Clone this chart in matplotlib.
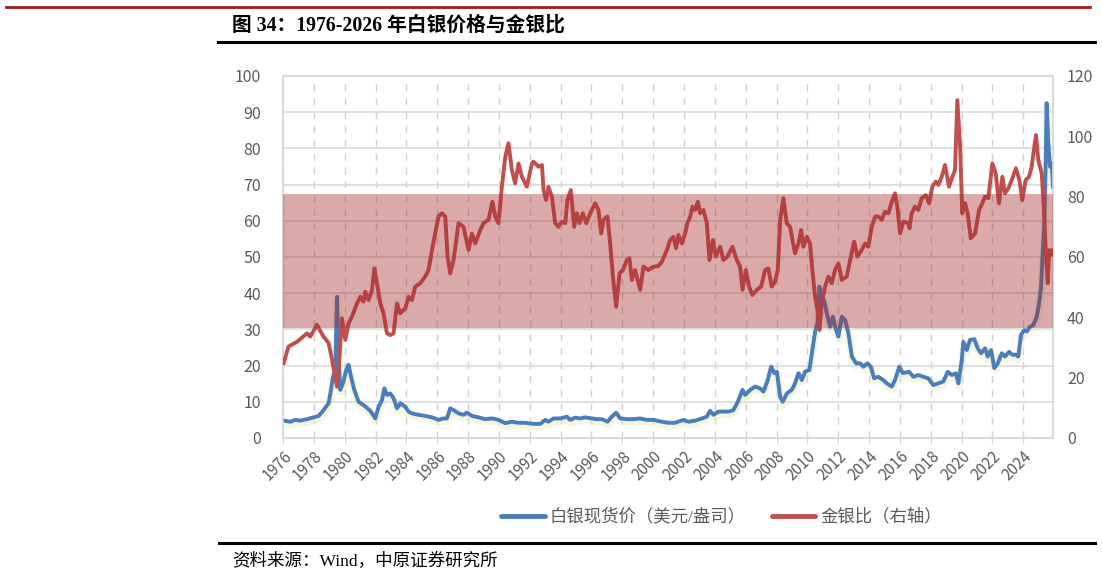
import matplotlib
matplotlib.use("Agg")
import matplotlib.pyplot as plt
import matplotlib.patheffects as pe
from matplotlib.lines import Line2D
from matplotlib.transforms import ScaledTranslation
import numpy as np

plt.rcParams['font.family'] = ['Noto Sans CJK SC', 'DejaVu Sans']
serif_cjk = ['Liberation Serif', 'Noto Sans CJK SC']

# silver spot price (USD/oz), left axis
silver_t = [1976.04, 1976.47, 1976.80, 1977.12, 1977.56, 1977.98, 1978.31, 1978.63, 1978.96, 1979.11,
            1979.24, 1979.39, 1979.50, 1979.60, 1979.71, 1979.89, 1980.10, 1980.25, 1980.41, 1980.62,
            1980.90, 1981.22, 1981.48, 1981.70, 1981.98, 1982.20, 1982.42, 1982.57, 1982.74, 1982.95,
            1983.17, 1983.39, 1983.60, 1983.93, 1984.14, 1984.36, 1984.79, 1985.22, 1985.66, 1986.08,
            1986.41, 1986.63, 1986.84, 1987.06, 1987.38, 1987.70, 1987.92, 1988.25, 1988.68, 1989.11,
            1989.55, 1989.97, 1990.41, 1990.84, 1991.27, 1991.70, 1992.24, 1992.68, 1993.00, 1993.21,
            1993.54, 1993.97, 1994.41, 1994.62, 1994.94, 1995.27, 1995.59, 1996.03, 1996.35, 1996.67,
            1997.04, 1997.32, 1997.60, 1997.86, 1998.29, 1998.72, 1999.16, 1999.59, 2000.02, 2000.56,
            2000.99, 2001.42, 2001.96, 2002.29, 2002.72, 2003.16, 2003.48, 2003.69, 2003.91, 2004.23,
            2004.55, 2004.88, 2005.20, 2005.49, 2005.79, 2005.96, 2006.29, 2006.61, 2006.93, 2007.15,
            2007.43, 2007.65, 2007.86, 2008.02, 2008.23, 2008.40, 2008.66, 2008.99, 2009.20, 2009.42,
            2009.64, 2009.85, 2010.13, 2010.32, 2010.50, 2010.65, 2010.78, 2010.93, 2011.08, 2011.26,
            2011.47, 2011.65, 2011.86, 2012.01, 2012.23, 2012.44, 2012.66, 2012.88, 2013.16, 2013.42,
            2013.63, 2013.89, 2014.11, 2014.32, 2014.60, 2014.93, 2015.14, 2015.47, 2015.68, 2015.96,
            2016.18, 2016.59, 2016.87, 2017.19, 2017.52, 2017.84, 2018.16, 2018.49, 2018.81, 2019.10,
            2019.36, 2019.62, 2019.79, 2020.01, 2020.11, 2020.33, 2020.54, 2020.82, 2021.04, 2021.26,
            2021.52, 2021.69, 2021.90, 2022.12, 2022.34, 2022.60, 2022.81, 2023.07, 2023.29, 2023.50,
            2023.67, 2023.85, 2024.06, 2024.22, 2024.43, 2024.65, 2024.87, 2025.02, 2025.15, 2025.23,
            2025.36, 2025.45, 2025.51, 2025.62, 2025.73, 2025.84, 2025.92]
silver_v = [4.8, 4.5, 5.0, 4.8, 5.2, 5.7, 6.1, 7.7, 9.6, 13.3,
            16.9, 18.8, 39.0, 23.4, 13.3, 15.1, 18.8, 20.2, 16.9, 13.3,
            10.0, 9.1, 8.2, 7.3, 5.4, 8.6, 10.5, 13.7, 11.9, 12.3,
            11.0, 8.2, 9.6, 8.6, 7.3, 6.8, 6.4, 6.1, 5.7, 5.0,
            5.4, 5.4, 8.2, 7.7, 6.8, 6.4, 7.0, 6.1, 5.7, 5.2,
            5.4, 5.0, 4.1, 4.5, 4.2, 4.2, 3.9, 3.9, 5.0, 4.5,
            5.4, 5.4, 5.9, 5.0, 5.6, 5.4, 5.7, 5.4, 5.2, 5.2,
            4.5, 5.9, 7.0, 5.4, 5.2, 5.2, 5.4, 5.0, 5.0, 4.5,
            4.2, 4.2, 5.0, 4.5, 4.8, 5.4, 5.9, 7.5, 6.4, 7.3,
            7.3, 7.3, 7.7, 10.0, 13.3, 11.9, 13.3, 14.2, 13.7, 12.8,
            16.0, 19.7, 17.9, 18.3, 11.4, 10.0, 12.3, 13.3, 15.1, 17.9,
            16.0, 18.3, 18.8, 24.3, 29.4, 31.7, 41.8, 37.2, 38.1, 34.4,
            30.7, 33.5, 29.8, 28.0, 33.5, 32.6, 28.9, 22.5, 20.6, 20.6,
            19.7, 20.6, 19.7, 16.5, 16.9, 16.0, 15.1, 14.2, 16.0, 19.7,
            17.9, 18.3, 16.9, 17.4, 16.9, 16.5, 14.6, 15.1, 15.6, 18.3,
            17.4, 17.9, 15.1, 21.5, 26.6, 24.3, 27.1, 27.3, 24.8, 23.4,
            24.8, 22.5, 24.3, 19.3, 20.6, 23.4, 22.5, 23.8, 23.0, 23.0,
            22.5, 28.5, 29.8, 29.4, 30.7, 31.2, 33.5, 37.2, 41.8, 49.2,
            59.3, 75.9, 92.5, 81.4, 74.9, 75.9, 69.4]

# gold / silver ratio, right axis
ratio_t = [1976.04, 1976.36, 1976.91, 1977.56, 1977.77, 1978.20, 1978.63, 1978.96, 1979.18, 1979.50,
           1979.60, 1979.82, 1980.04, 1980.25, 1980.47, 1980.80, 1981.01, 1981.22, 1981.33, 1981.55,
           1981.77, 1981.92, 1982.09, 1982.31, 1982.52, 1982.74, 1982.95, 1983.17, 1983.39, 1983.60,
           1983.93, 1984.14, 1984.36, 1984.57, 1984.90, 1985.22, 1985.44, 1985.66, 1985.87, 1986.08,
           1986.30, 1986.52, 1986.67, 1986.84, 1987.06, 1987.38, 1987.70, 1988.03, 1988.25, 1988.46,
           1988.79, 1989.00, 1989.32, 1989.58, 1989.76, 1989.97, 1990.19, 1990.41, 1990.62, 1990.84,
           1991.05, 1991.27, 1991.49, 1991.81, 1992.14, 1992.24, 1992.57, 1992.79, 1992.89, 1993.06,
           1993.21, 1993.43, 1993.65, 1993.86, 1994.08, 1994.30, 1994.44, 1994.66, 1994.88, 1995.05,
           1995.22, 1995.44, 1995.66, 1995.92, 1996.24, 1996.45, 1996.63, 1996.78, 1997.04, 1997.21,
           1997.39, 1997.60, 1997.82, 1998.04, 1998.29, 1998.46, 1998.62, 1998.83, 1999.16, 1999.37,
           1999.69, 2000.02, 2000.34, 2000.56, 2000.89, 2001.10, 2001.31, 2001.49, 2001.64, 2001.86,
           2002.07, 2002.22, 2002.40, 2002.55, 2002.72, 2002.90, 2003.04, 2003.26, 2003.48, 2003.65,
           2003.87, 2004.06, 2004.34, 2004.55, 2004.81, 2005.14, 2005.42, 2005.64, 2005.79, 2006.01,
           2006.22, 2006.43, 2006.72, 2007.00, 2007.26, 2007.47, 2007.69, 2007.90, 2008.08, 2008.23,
           2008.44, 2008.66, 2008.88, 2009.03, 2009.20, 2009.42, 2009.59, 2009.74, 2009.96, 2010.17,
           2010.32, 2010.50, 2010.65, 2010.78, 2010.93, 2011.15, 2011.36, 2011.58, 2011.79, 2012.01,
           2012.23, 2012.55, 2012.77, 2013.03, 2013.24, 2013.52, 2013.74, 2013.95, 2014.17, 2014.39,
           2014.60, 2014.82, 2015.03, 2015.25, 2015.47, 2015.68, 2015.83, 2016.01, 2016.22, 2016.54,
           2016.62, 2016.76, 2016.98, 2017.19, 2017.41, 2017.67, 2017.89, 2018.10, 2018.32, 2018.49,
           2018.71, 2018.92, 2019.18, 2019.40, 2019.57, 2019.72, 2019.90, 2020.04, 2020.22, 2020.39,
           2020.59, 2020.87, 2021.13, 2021.34, 2021.52, 2021.73, 2021.99, 2022.21, 2022.42, 2022.64,
           2022.81, 2023.03, 2023.25, 2023.52, 2023.74, 2023.93, 2024.15, 2024.37, 2024.54, 2024.71,
           2024.82, 2024.97, 2025.19, 2025.34, 2025.45, 2025.58, 2025.68, 2025.84, 2025.92]
ratio_v = [24.8, 30.3, 31.9, 34.7, 33.6, 37.5, 33.6, 31.5, 25.9, 17.0,
           22.0, 39.7, 32.5, 38.0, 40.2, 44.6, 46.8, 45.2, 48.5, 45.7,
           49.0, 56.2, 51.3, 44.6, 41.3, 34.7, 34.1, 34.7, 44.6, 41.3,
           43.0, 46.8, 45.7, 50.2, 51.3, 53.5, 55.7, 62.3, 67.8, 73.4,
           74.5, 73.4, 60.1, 54.6, 59.0, 71.2, 70.0, 62.3, 67.8, 64.5,
           68.9, 71.2, 72.3, 78.3, 73.4, 71.2, 83.3, 93.2, 97.7, 88.8,
           84.4, 91.0, 86.6, 83.3, 91.0, 91.6, 89.9, 90.5, 82.2, 78.9,
           83.3, 80.0, 71.2, 70.0, 71.7, 71.2, 78.9, 82.2, 70.0, 74.5,
           71.2, 74.5, 71.2, 74.5, 77.8, 75.6, 67.8, 72.3, 73.4, 64.5,
           53.5, 43.5, 54.6, 55.7, 59.0, 59.6, 52.4, 55.7, 49.1, 56.8,
           55.7, 56.8, 57.0, 58.4, 62.3, 65.6, 66.7, 62.9, 67.3, 64.5,
           67.8, 71.2, 73.4, 76.7, 75.6, 78.3, 74.5, 75.6, 71.2, 59.0,
           65.6, 60.1, 63.4, 59.0, 60.1, 63.4, 59.0, 56.8, 49.1, 55.7,
           50.2, 47.4, 49.1, 50.2, 55.7, 56.2, 50.2, 51.8, 55.7, 72.0,
           79.5, 71.2, 70.0, 65.6, 61.2, 64.5, 68.9, 63.4, 66.7, 64.5,
           55.7, 46.8, 42.4, 35.8, 44.6, 50.2, 53.5, 51.3, 55.7, 57.9,
           52.4, 53.5, 59.0, 65.1, 60.1, 62.3, 64.5, 63.4, 70.0, 73.4,
           73.4, 72.3, 75.0, 74.5, 78.3, 81.1, 76.7, 67.8, 71.7, 71.2,
           69.5, 74.5, 76.7, 75.6, 79.5, 80.5, 77.8, 83.3, 85.0, 83.9,
           86.6, 90.5, 83.3, 86.6, 88.8, 112.0, 96.6, 74.5, 77.8, 74.5,
           66.2, 67.8, 75.6, 77.8, 80.0, 79.5, 91.0, 87.7, 77.8, 86.6,
           81.1, 82.8, 85.5, 89.4, 85.5, 78.9, 85.5, 86.6, 89.9, 96.6,
           100.4, 92.1, 87.7, 75.6, 62.3, 51.3, 62.3, 60.7, 62.3]

year_ticks = list(range(1976, 2025, 2))
band_low, band_high = 36.6, 80.8

blue = '#4a7ebb'
red = '#c0504d'
grey = '#595959'

fig = plt.figure(figsize=(11.02, 5.76), dpi=100)
ax = fig.add_axes([0.2568, 0.2396, 0.6987, 0.6285])
ax2 = ax.twinx()

ax.plot(silver_t, silver_v, color=blue, lw=2.8, solid_joinstyle='round', zorder=3,
        path_effects=[pe.SimpleLineShadow(offset=(0.3, -2.0), shadow_color='#e4eab8',
                                          alpha=0.4, linewidth=5.5), pe.Normal()])
ax2.plot(ratio_t, ratio_v, color=red, lw=2.8, solid_joinstyle='round', zorder=3)
ax2.axhspan(band_low, band_high, color='#a32a2a', alpha=0.4, lw=0, zorder=5)

ax.set_xlim(1976, 2025.92)
ax.set_ylim(0, 100)
ax2.set_ylim(0, 120)
ax.set_yticks(range(0, 101, 10))
ax2.set_yticks(range(0, 121, 20))
ax.set_xticks(year_ticks)
ax.set_xticklabels([str(y) for y in year_ticks], rotation=45, ha='right', va='top',
                   rotation_mode='anchor')
for lbl in ax.get_xticklabels():
    lbl.set_transform(lbl.get_transform() + ScaledTranslation(6 / 72, 0, fig.dpi_scale_trans))

ax.grid(axis='y', color='#d9d9d9', lw=1.2, zorder=0)
ax.grid(axis='x', color='#d0d0d0', lw=1.0, ls=(0, (5, 5)), zorder=0)
ax.set_axisbelow(True)
for a in (ax, ax2):
    for s in a.spines.values():
        s.set_color('#d9d9d9')
        s.set_linewidth(1.2)
ax.tick_params(axis='y', length=0, pad=16, labelsize=11.5, labelcolor=grey)
ax2.tick_params(axis='y', length=0, pad=10, labelsize=11.5, labelcolor=grey)
ax.tick_params(axis='x', length=4, color='#d9d9d9', pad=3, labelsize=11, labelcolor=grey)

handles = [Line2D([], [], color=blue, lw=3.5, solid_capstyle='round'),
           Line2D([], [], color=red, lw=3.5, solid_capstyle='round')]
fig.legend(handles, ['白银现货价（美元/盎司）', '金银比（右轴）'], loc='center',
           bbox_to_anchor=(0.655, 0.102), ncol=2, frameon=False, handlelength=2.5,
           handletextpad=0.3, columnspacing=1.5, labelcolor=grey,
           prop={'family': serif_cjk, 'size': 12.5})

# header / footer rules
fig.add_artist(Line2D([6 / 1102, 1090 / 1102], [1 - 7.3 / 576] * 2, color='#9b1b1b', lw=2.0,
                      transform=fig.transFigure))
fig.add_artist(Line2D([218 / 1102, 1095 / 1102], [1 - 41.7 / 576] * 2, color='black', lw=2.2,
                      transform=fig.transFigure))
fig.add_artist(Line2D([219 / 1102, 1095 / 1102], [1 - 543.3 / 576] * 2, color='black', lw=2.2,
                      transform=fig.transFigure))
fig.text(232 / 1102, 1 - 25.5 / 576, '图 34：1976-2026 年白银价格与金银比', fontsize=14.2,
         fontweight='bold', family=serif_cjk, va='center', ha='left')
fig.text(231.7 / 1102, 1 - 561 / 576, '资料来源：Wind，中原证券研究所', fontsize=12.6,
         family=serif_cjk, va='center', ha='left')

fig.savefig('out.png', dpi=100)
